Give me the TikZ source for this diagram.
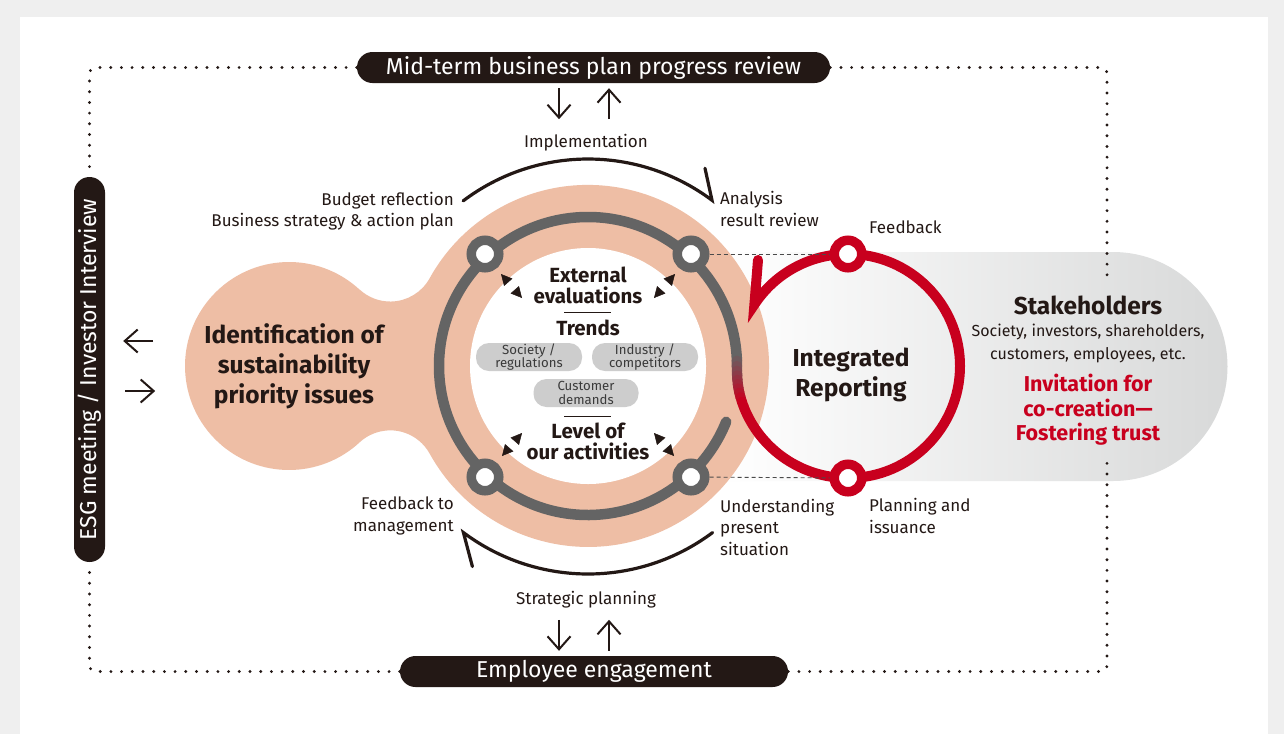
\documentclass[tikz,border=0pt]{standalone}
\usepackage{fontspec}
\setmainfont{Fira Sans}
\usetikzlibrary{arrows.meta, positioning, calc}
\definecolor{ink}{HTML}{231815}
\definecolor{salmon}{HTML}{EEBEA5}
\definecolor{ringgray}{HTML}{646464}
\definecolor{chipgray}{HTML}{CDCDCD}
\definecolor{chiptext}{HTML}{3A3A3A}
\definecolor{irred}{HTML}{C8001E}
\definecolor{pagegray}{HTML}{EFEFEF}
\definecolor{stakegray}{HTML}{D8D9D9}
\definecolor{dashgray}{HTML}{4A4A4A}
\tikzset{
  pill/.style={rectangle, rounded corners=15.5pt, fill=ink, text=white,
               minimum height=31pt, inner sep=0pt, font=\fontsize{23}{26}\selectfont},
  lbl/.style={inner sep=0pt, text=ink, font=\fontsize{17}{21.5}\selectfont},
  bighead/.style={inner sep=0pt, text=ink, align=center,
                  font=\bfseries\fontsize{24.5}{30}\selectfont},
  midhead/.style={inner sep=0pt, text=ink, align=center,
                  font=\bfseries\fontsize{20.5}{21}\selectfont},
  chip/.style={rectangle, rounded corners=13pt, fill=chipgray, text=chiptext,
               minimum width=106pt, minimum height=28pt, inner sep=0pt,
               align=center, font=\fontsize{13.2}{13.5}\selectfont},
  hub/.style={circle, draw=ringgray, line width=9.5pt, fill=white,
              minimum size=27.5pt, inner sep=0pt},
  redhub/.style={hub, draw=irred},
  ringline/.style={draw=ringgray, line width=10.5pt, line cap=round},
  redline/.style={draw=irred, line width=10pt, line cap=round, line join=miter},
  cyclearc/.style={draw=ink, line width=3.2pt, line cap=round},
  dashlink/.style={draw=dashgray, line width=0.9pt, dash pattern=on 4pt off 3pt},
  dotline/.style={draw=ink, line width=3.2pt, line cap=round,
                  dash pattern=on 0pt off 10.7pt, rounded corners=6pt},
  flowarrow/.style={draw=ink, line width=2pt,
                    -{Straight Barb[length=13pt, width=23pt, line width=2pt]}},
  pairtip/.style={draw=white, line width=0.5pt,
                  {Triangle[length=11pt, width=11pt, color=ink]}-{Triangle[length=11pt, width=11pt, color=ink]}},
  rulemark/.style={draw=ink, line width=0.9pt},
}

\begin{document}
\begin{tikzpicture}[x=1pt, y=-1pt]

% Page and panel
\useasboundingbox (0,0) rectangle (1284,734);
\fill[pagegray] (0,0) rectangle (1284,734);
\fill[white] (20,17) rectangle (1268,734);

\coordinate (ctr)   at (588,366);
\coordinate (blobc) at (289,366);
\coordinate (redc)  at (848,366);

% Stakeholder band (behind everything)
\shade[left color=white, right color=stakegray]
  (720,252) -- (1113,252) arc[start angle=-90, end angle=90, radius=114.5]
  -- (720,481) -- cycle;

% Salmon shape: priority blob joined to the cycle disc
\fill[salmon] ($(blobc)+(-47.2:104)$)
  arc[start angle=-47.2, end angle=-312.8, radius=104]
  arc[start angle=-132.8, end angle=-28.95, radius=45]
  arc[start angle=151.05, end angle=-151.05, radius=181]
  arc[start angle=28.95, end angle=132.8, radius=45] -- cycle;
\fill[white] (ctr) circle[radius=118];

% Management cycle ring
\draw[ringline] ($(ctr)+(-2:149)$) arc[start angle=-2, end angle=-338, radius=149];

% Ring blends into the reporting circle
\path ($(ctr)+(-2:149)$) .. controls +(0,18) and +(-6.5,-17) .. ($(redc)+(158.7:112)$)
  coordinate[pos=0] (g0) coordinate[pos=.1] (g1) coordinate[pos=.2] (g2)
  coordinate[pos=.3] (g3) coordinate[pos=.4] (g4) coordinate[pos=.5] (g5)
  coordinate[pos=.6] (g6) coordinate[pos=.7] (g7) coordinate[pos=.8] (g8)
  coordinate[pos=.9] (g9) coordinate[pos=1] (g10);
\foreach \k in {1,...,10} {
  \pgfmathtruncatemacro{\prev}{\k-1}
  \pgfmathtruncatemacro{\mix}{100-10*\k}
  \draw[ringline, draw=ringgray!\mix!irred, line width=10.5pt-0.05pt*\k] (g\prev) -- (g\k);
}

% Integrated reporting circle
\draw[redline] ($(redc)+(-90:112)$) arc[start angle=-90, end angle=158.7, radius=112];
\draw[redline] ($(redc)+(-90:112)$) arc[start angle=-90, end angle=-146.7, radius=112]
  -- ++(3.6,-44.5);

% Hubs
\node[hub] (hubTL) at (485,254) {};
\node[hub] (hubTR) at (691,254) {};
\node[hub] (hubBL) at (485,477) {};
\node[hub] (hubBR) at (691,477) {};
\node[redhub] (redT) at (848,254) {};
\node[redhub] (redB) at (848,478) {};

\draw[dashlink] (hubTR) -- (redT);
\draw[dashlink] (hubBR) -- (redB);

% Outer cycle arrows
\draw[cyclearc] ($(ctr)+(-127.1:207)$) arc[start angle=-127.1, end angle=-53.2, radius=207]
  -- ++(-7,-32);
\draw[cyclearc] ($(ctr)+(53.2:208)$) arc[start angle=53.2, end angle=126.8, radius=208]
  -- ++(9,34);

% Cycle labels
\node[lbl] (impl) at (586,143) {Implementation};
\node[lbl] (strat) at (586,600) {Strategic planning};
\node[lbl, align=right, anchor=east] (budget) at (454,211)
  {Budget reflection\\Business strategy \& action plan};
\node[lbl, align=left, anchor=west] (analysis) at (720,209) {Analysis\\result review};
\node[lbl, align=right, anchor=east] (fbmgmt) at (454,516) {Feedback to\\management};
\node[lbl, align=left, anchor=west] (present) at (720,527)
  {Understanding\\present\\situation};
\node[lbl, anchor=west] (feedback) at (869,227) {Feedback};
\node[lbl, align=left, anchor=west] (issue) at (869,516) {Planning and\\issuance};

% Priority issues
\node[bighead] (ident) at (294,366)
  {Identification of\\sustainability\\priority issues};

% Inside the cycle
\node[midhead] (external) at (588,285) {External\\evaluations};
\draw[rulemark] (564,312) -- (611,312);
\node[midhead] (trends) at (588,328) {Trends};
\node[chip] (society) at (529,357) {Society /\\regulations};
\node[chip] (industry) at (645,357) {Industry /\\competitors};
\node[chip, minimum width=105pt] (customer) at (586,393) {Customer\\demands};
\draw[rulemark] (564,416) -- (611,416);
\node[midhead] (level) at (588,441) {Level of\\our activities};

\draw[pairtip] (501,274) -- (522,298);
\draw[pairtip] (675,274) -- (654,298);
\draw[pairtip] (502,456) -- (522,433);
\draw[pairtip] (674,456) -- (654,433);

% Integrated reporting and stakeholders
\node[bighead] (report) at (851,375) {Integrated\\Reporting};
\node[inner sep=0pt, align=center, text=ink, font=\bfseries\fontsize{24.5}{28}\selectfont]
  (stake) at (1088,305) {Stakeholders};
\node[inner sep=0pt, align=center, text=ink, font=\fontsize{16}{23}\selectfont,
      below=9pt of stake] (stakelist)
  {Society, investors, shareholders,\\customers, employees, etc.};
\node[inner sep=0pt, align=center, text=irred, font=\bfseries\fontsize{21.5}{24.5}\selectfont]
  (cocreate) at (1088,410) {Invitation for\\co-creation—\\Fostering trust};

% Frame pills
\node[pill, minimum width=473pt] (review) at (593.5,67.5)
  {Mid-term business plan progress review};
\node[pill, minimum width=388pt] (engage) at (594,671.5) {Employee engagement};
\node[pill, minimum width=385pt, rotate=90] (esg) at (89.5,369.5)
  {ESG meeting / Investor Interview};

\coordinate (stakeTop) at (1107,277);
\coordinate (stakeBot) at (1107,462);

% Dotted frame
\draw[dotline] (review.west) -| (esg.east);
\draw[dotline] (engage.west) -| (esg.west);
\draw[dotline] (review.east) -| (stakeTop);
\draw[dotline] (engage.east) -| (stakeBot);

% Exchange arrows
\draw[flowarrow] ($(review.south)+(-34.5,5)$) -- ($(review.south)+(-34.5,36)$);
\draw[flowarrow] ($(review.south)+(15.5,36)$) -- ($(review.south)+(15.5,5)$);
\draw[flowarrow] ($(engage.north)+(-35,-36)$) -- ($(engage.north)+(-35,-5)$);
\draw[flowarrow] ($(engage.north)+(15,-5)$) -- ($(engage.north)+(15,-36)$);
\draw[flowarrow] ($(esg.south)+(48,-28.5)$) -- ($(esg.south)+(18,-28.5)$);
\draw[flowarrow] ($(esg.south)+(20,21.5)$) -- ($(esg.south)+(50,21.5)$);

\end{tikzpicture}
\end{document}
